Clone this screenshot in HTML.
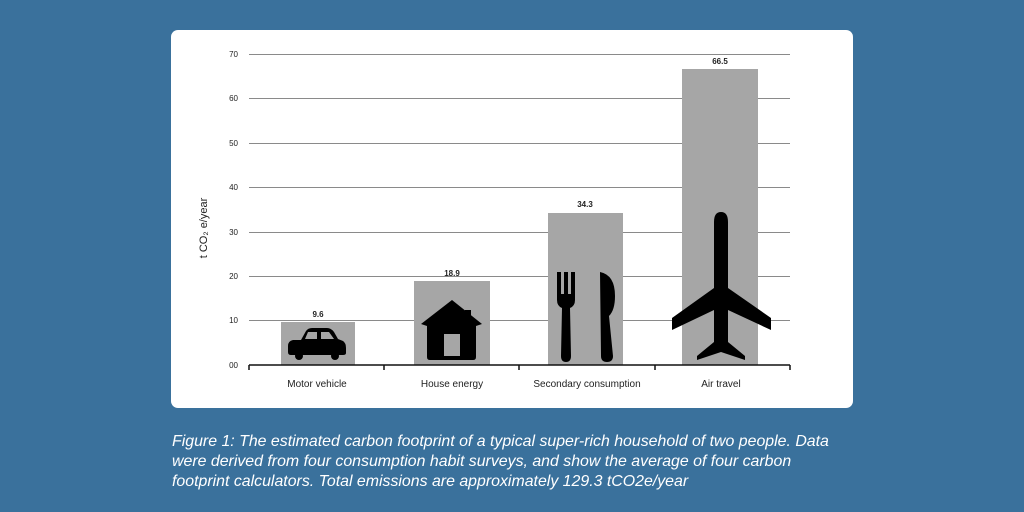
<!DOCTYPE html>
<html><head><style>
html,body{margin:0;padding:0;width:1024px;height:512px;background:#3a719c;overflow:hidden}
.cap{position:absolute;left:172px;top:432px;width:672px;color:#fff;font:italic 15.9px/19.8px "Liberation Sans",sans-serif}
</style></head><body>
<svg width="1024" height="512" style="position:absolute;left:0;top:0">
<rect x="171" y="30" width="682" height="378" rx="7" fill="#fff"/>
<g stroke="#8a8a8a" stroke-width="1">
<line x1="249" x2="790" y1="54.5" y2="54.5"/>
<line x1="249" x2="790" y1="98.5" y2="98.5"/>
<line x1="249" x2="790" y1="143.5" y2="143.5"/>
<line x1="249" x2="790" y1="187.5" y2="187.5"/>
<line x1="249" x2="790" y1="232.5" y2="232.5"/>
<line x1="249" x2="790" y1="276.5" y2="276.5"/>
<line x1="249" x2="790" y1="320.5" y2="320.5"/>
</g>
<g font-family="Liberation Sans,sans-serif" font-size="8" fill="#222" text-anchor="end">
<text x="238" y="57">70</text><text x="238" y="101">60</text><text x="238" y="146">50</text>
<text x="238" y="190">40</text><text x="238" y="235">30</text><text x="238" y="279">20</text>
<text x="238" y="323">10</text><text x="238" y="368">00</text>
</g>
<text transform="translate(207,228) rotate(-90)" text-anchor="middle" font-family="Liberation Sans,sans-serif" font-size="11" fill="#222">t CO₂ e/year</text>
<g fill="#a6a6a6">
<rect x="281" y="322" width="74" height="43"/>
<rect x="414" y="281" width="76" height="84"/>
<rect x="548" y="213" width="75" height="152"/>
<rect x="682" y="69" width="76" height="296"/>
</g>
<g font-family="Liberation Sans,sans-serif" font-size="8" font-weight="bold" fill="#222" text-anchor="middle">
<text x="318" y="317">9.6</text><text x="452" y="276">18.9</text><text x="585" y="207">34.3</text><text x="720" y="64">66.5</text>
</g>
<g stroke="#111" stroke-width="1.5">
<line x1="249" x2="790" y1="365" y2="365"/>
<line x1="249" x2="249" y1="365" y2="370"/><line x1="384" x2="384" y1="365" y2="370"/>
<line x1="519" x2="519" y1="365" y2="370"/><line x1="655" x2="655" y1="365" y2="370"/>
<line x1="790" x2="790" y1="365" y2="370"/>
</g>
<g font-family="Liberation Sans,sans-serif" font-size="10" fill="#222" text-anchor="middle">
<text x="317" y="387">Motor vehicle</text><text x="452" y="387">House energy</text>
<text x="587" y="387">Secondary consumption</text><text x="721" y="387">Air travel</text>
</g>
<g fill="#000">
<path d="M301 340 L306 331 Q308 328 312 328 L327 328 Q331 328 334 332 L338 339 L343 341 Q346 343 346 348 L346 353 Q346 355 343 355 L291 355 Q288 355 288 352 L288 346 Q288 341 293 340 Z"/>
<circle cx="299" cy="356" r="4"/><circle cx="335" cy="356" r="4"/>
</g>
<g fill="#a6a6a6"><path d="M305 339 L308 332 L317 332 L317 339Z"/><path d="M321 332 L329 332 L334 339 L321 339Z"/></g>
<path fill="#000" d="M452 300 L482 324 L476 326 L476 357 Q476 360 473 360 L430 360 Q427 360 427 357 L427 326 L421 324 Z M465 310 L471 310 L471 322 L465 317Z"/>
<rect x="444" y="334" width="16" height="22" fill="#a6a6a6"/>
<path fill="#000" d="M557 272 L561 272 L561 294 L564 294 L564 272 L568 272 L568 294 L571 294 L571 272 L575 272 L575 300 Q575 306 570 308 L571 356 Q571 362 566 362 Q561 362 561 356 L562 308 Q557 306 557 300Z"/>
<path fill="#000" d="M600 272 Q615 275 615 296 Q615 310 609 316 L613 356 Q613 362 607 362 Q601 362 601 356 Z"/>
<path fill="#000" d="M721 212 Q728 212 728 222 L728 288 L771 318 L771 330 L728 310 L728 342 L745 356 L745 360 L721 352 L697 360 L697 356 L714 342 L714 310 L672 330 L672 318 L714 288 L714 222 Q714 212 721 212Z"/>
</svg>
<div class="cap">Figure 1: The estimated carbon footprint of a typical super-rich household of two people. Data were derived from four consumption habit surveys, and show the average of four carbon footprint calculators. Total emissions are approximately 129.3 tCO2e/year</div>
</body></html>
